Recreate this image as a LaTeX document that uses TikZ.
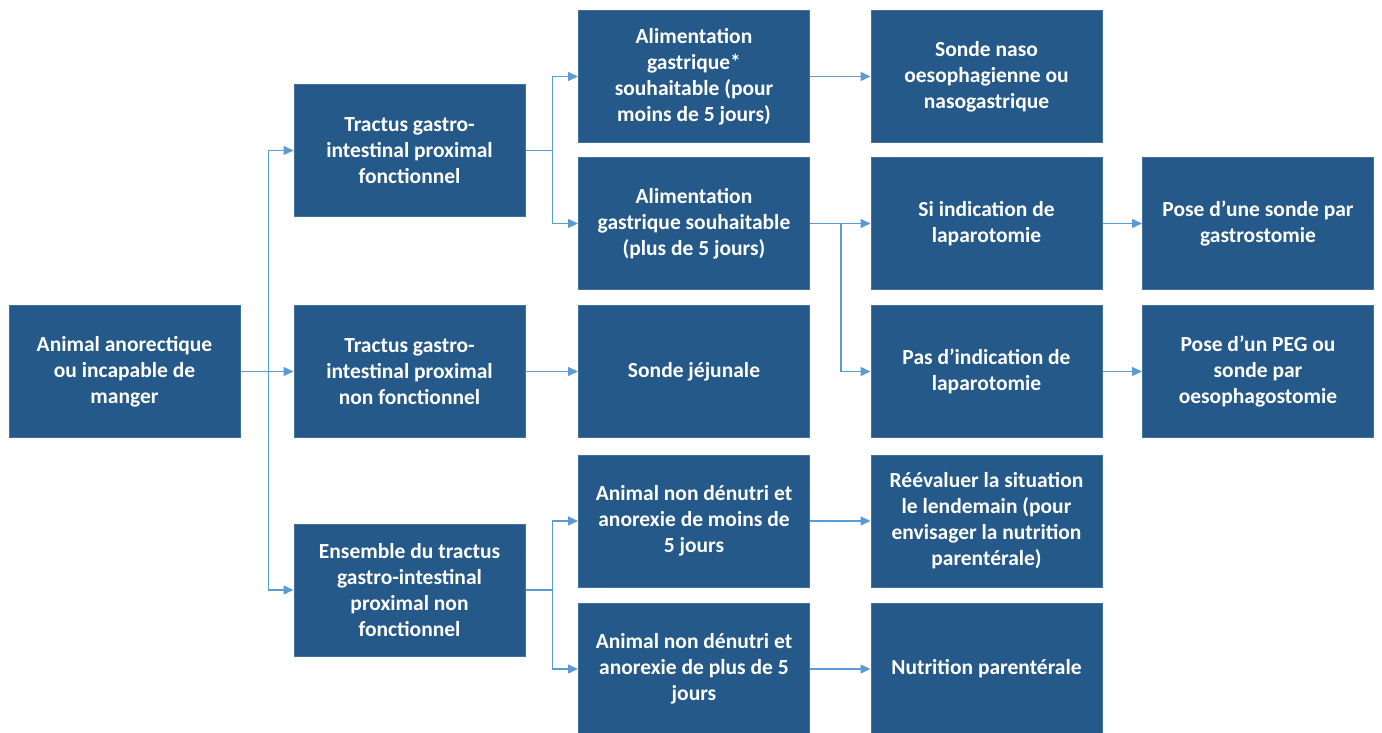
\documentclass[tikz,border=0pt]{standalone}
\usepackage{fontspec}
\setmainfont{Carlito}
\usetikzlibrary{arrows.meta}
\definecolor{boxblue}{RGB}{37,89,137}
\definecolor{boxline}{RGB}{65,113,156}
\definecolor{linkblue}{RGB}{91,155,213}
\tikzset{
  box/.style={draw=boxline, line width=1pt, fill=boxblue, text=white, minimum width=231pt, minimum height=132pt,
              inner sep=2pt, align=center, font=\fontsize{21.5}{26}\selectfont\bfseries},
  link/.style={draw=linkblue, line width=1.4pt, -{Triangle[length=10pt,width=9pt]}}
}
\begin{document}
\begin{tikzpicture}[x=1pt, y=1pt]
    \useasboundingbox (0,0) rectangle (1382,-733);

    \node [box] (ani)  at (124.5,-371.5) {Animal anorectique\\ou incapable de\\manger};
    \node [box] (tgf)  at (409.5,-150.5) {Tractus gastro-\\intestinal proximal\\fonctionnel};
    \node [box] (tgnf) at (409.5,-371.5) {Tractus gastro-\\intestinal proximal\\non fonctionnel};
    \node [box] (ens)  at (409.5,-590)   {Ensemble du tractus\\gastro-intestinal\\proximal non\\fonctionnel};
    \node [box] (alim) at (694,-76.5)    {Alimentation\\gastrique*\\souhaitable (pour\\moins de 5 jours)};
    \node [box] (alip) at (694,-223.5)   {Alimentation\\gastrique souhaitable\\(plus de 5 jours)};
    \node [box] (jej)  at (694,-371.5)   {Sonde jéjunale};
    \node [box] (ndm)  at (694,-521)     {Animal non dénutri et\\anorexie de moins de\\5 jours};
    \node [box] (ndp)  at (694,-669)     {Animal non dénutri et\\anorexie de plus de 5\\jours};
    \node [box] (naso) at (986.5,-76.5)  {Sonde naso\\oesophagienne ou\\nasogastrique};
    \node [box] (silap) at (986.5,-223.5) {Si indication de\\laparotomie};
    \node [box] (nolap) at (986.5,-371.5) {Pas d’indication de\\laparotomie};
    \node [box] (reev) at (986.5,-521)   {Réévaluer la situation\\le lendemain (pour\\envisager la nutrition\\parentérale)};
    \node [box] (npar) at (986.5,-669)   {Nutrition parentérale};
    \node [box] (gast) at (1258,-223.5)  {Pose d’une sonde par\\gastrostomie};
    \node [box] (peg)  at (1258,-371.5)  {Pose d’un PEG ou\\sonde par\\oesophagostomie};

    \draw [link] (ani.east) -- ++(28,0) |- (tgf.west);
    \draw [link] (ani.east) -- (tgnf.west);
    \draw [link] (ani.east) -- ++(28,0) |- (ens.west);
    \draw [link] (tgf.east) -- ++(27,0) |- (alim.west);
    \draw [link] (tgf.east) -- ++(27,0) |- (alip.west);
    \draw [link] (tgnf)     -- (jej);
    \draw [link] (ens.east) -- ++(27,0) |- (ndm.west);
    \draw [link] (ens.east) -- ++(27,0) |- (ndp.west);
    \draw [link] (alim)     -- (naso);
    \draw [link] (alip.east) -- ++(31,0) |- (silap.west);
    \draw [link] (alip.east) -- ++(31,0) |- (nolap.west);
    \draw [link] (silap)    -- (gast);
    \draw [link] (nolap)    -- (peg);
    \draw [link] (ndm)      -- (reev);
    \draw [link] (ndp)      -- (npar);
\end{tikzpicture}
\end{document}
